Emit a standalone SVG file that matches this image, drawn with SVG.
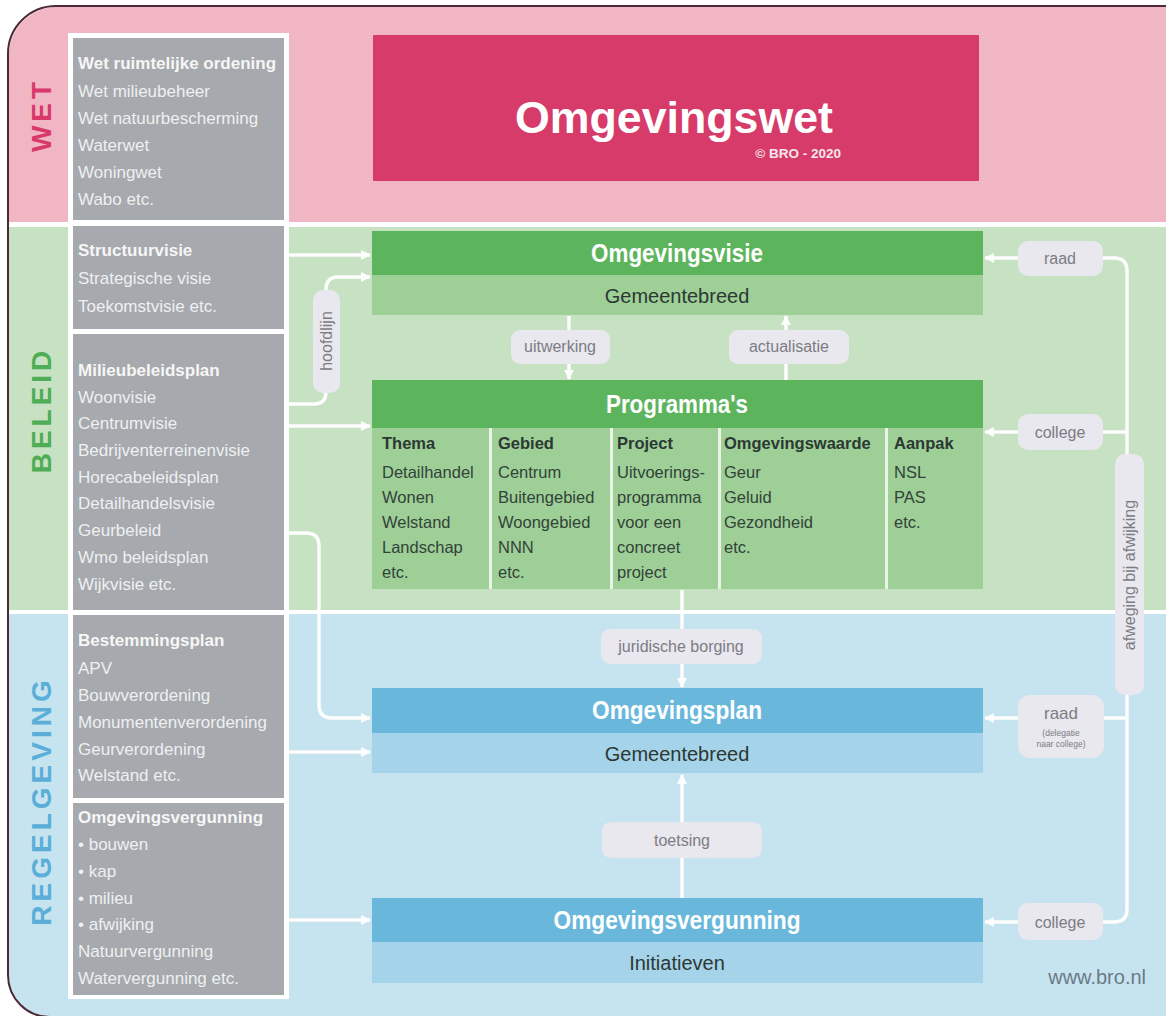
<svg xmlns="http://www.w3.org/2000/svg" width="1171" height="1016" viewBox="0 0 1171 1016">
<defs>
<style>
.t{font-family:"Liberation Sans",Arial,sans-serif}
.gh{font-family:"Liberation Sans",Arial,sans-serif;font-weight:bold;font-size:17px;fill:#f6f6f6}
.gl{font-family:"Liberation Sans",Arial,sans-serif;font-size:17px;fill:#eef0f2}
.sec{font-family:"Liberation Sans",Arial,sans-serif;font-weight:bold;font-size:28px;letter-spacing:4px;text-anchor:middle}
.hd{font-family:"Liberation Sans",Arial,sans-serif;font-weight:bold;font-size:26px;fill:#ffffff;text-anchor:middle}
.sub{font-family:"Liberation Sans",Arial,sans-serif;font-size:20px;fill:#2c3833;text-anchor:middle}
.th{font-family:"Liberation Sans",Arial,sans-serif;font-weight:bold;font-size:16.5px;fill:#2c3833}
.td{font-family:"Liberation Sans",Arial,sans-serif;font-size:16.5px;fill:#33423a}
.pill{fill:#e9e8ee}
.pt{font-family:"Liberation Sans",Arial,sans-serif;font-size:16px;fill:#7c7c84;text-anchor:middle}
.ps{font-family:"Liberation Sans",Arial,sans-serif;font-size:8.5px;fill:#7c7c84;text-anchor:middle}
.ln{fill:none;stroke:#fdfdfd;stroke-width:3.5}
.la{fill:none;stroke:#fdfdfd;stroke-width:3.5;marker-end:url(#ah)}
</style>
<marker id="ah" markerUnits="userSpaceOnUse" markerWidth="10" markerHeight="10" refX="9" refY="5" orient="auto">
<path d="M0,0 L10,5 L0,10 z" fill="#fdfdfd"/>
</marker>
</defs>

<g id="background">
<rect x="0" y="0" width="1171" height="1016" fill="#ffffff"/>
<path d="M1166 7 V222 H9 V55 A48 48 0 0 1 57 7 Z" fill="#f1b6c4"/>
<rect x="9" y="227" width="1157" height="383" fill="#c7e2c3"/>
<path d="M9 614 H1166 V1016 H50 A41 41 0 0 1 9 975 Z" fill="#c6e4f0"/>
<path d="M1166 6 H56 A48 48 0 0 0 8 54 V975 A42 42 0 0 0 50 1017" fill="none" stroke="#4b2a35" stroke-width="2"/>
</g>

<g id="section-labels">
<text class="sec" fill="#d8396a" transform="translate(51,115) rotate(-90)">WET</text>
<text class="sec" fill="#4fae55" transform="translate(51,410) rotate(-90)">BELEID</text>
<text class="sec" fill="#5aaed8" transform="translate(51,801) rotate(-90)">REGELGEVING</text>
</g>

<g id="left-column">
<rect x="68" y="33" width="221" height="966" fill="#ffffff"/>
<g id="box-wet">
<rect x="73" y="38" width="211" height="182" fill="#a6a9ad"/>
<text class="gh" x="78" y="69">Wet ruimtelijke ordening</text>
<text class="gl" x="78" y="97">Wet milieubeheer</text>
<text class="gl" x="78" y="124">Wet natuurbescherming</text>
<text class="gl" x="78" y="151">Waterwet</text>
<text class="gl" x="78" y="178">Woningwet</text>
<text class="gl" x="78" y="205">Wabo etc.</text>
</g>
<g id="box-structuurvisie">
<rect x="73" y="226" width="211" height="103" fill="#a6a9ad"/>
<text class="gh" x="78" y="256">Structuurvisie</text>
<text class="gl" x="78" y="284">Strategische visie</text>
<text class="gl" x="78" y="312">Toekomstvisie etc.</text>
</g>
<g id="box-milieubeleidsplan">
<rect x="73" y="334" width="211" height="276" fill="#a6a9ad"/>
<text class="gh" x="78" y="376">Milieubeleidsplan</text>
<text class="gl" x="78" y="403">Woonvisie</text>
<text class="gl" x="78" y="429">Centrumvisie</text>
<text class="gl" x="78" y="456">Bedrijventerreinenvisie</text>
<text class="gl" x="78" y="483">Horecabeleidsplan</text>
<text class="gl" x="78" y="509">Detailhandelsvisie</text>
<text class="gl" x="78" y="536">Geurbeleid</text>
<text class="gl" x="78" y="563">Wmo beleidsplan</text>
<text class="gl" x="78" y="590">Wijkvisie etc.</text>
</g>
<g id="box-bestemmingsplan">
<rect x="73" y="615" width="211" height="183" fill="#a6a9ad"/>
<text class="gh" x="78" y="646">Bestemmingsplan</text>
<text class="gl" x="78" y="674">APV</text>
<text class="gl" x="78" y="701">Bouwverordening</text>
<text class="gl" x="78" y="728">Monumentenverordening</text>
<text class="gl" x="78" y="755">Geurverordening</text>
<text class="gl" x="78" y="781">Welstand etc.</text>
</g>
<g id="box-omgevingsvergunning-left">
<rect x="73" y="803" width="211" height="192" fill="#a6a9ad"/>
<text class="gh" x="78" y="823">Omgevingsvergunning</text>
<text class="gl" x="78" y="850">• bouwen</text>
<text class="gl" x="78" y="877">• kap</text>
<text class="gl" x="78" y="904">• milieu</text>
<text class="gl" x="78" y="930">• afwijking</text>
<text class="gl" x="78" y="957">Natuurvergunning</text>
<text class="gl" x="78" y="984">Watervergunning etc.</text>
</g>
</g>

<g id="connectors">
<path class="la" d="M289 255 H370"/>
<path class="la" d="M289 404 H314 Q326 404 326 392 V290 Q326 277 338 277 H370"/>
<path class="la" d="M289 426 H370"/>
<path class="la" d="M289 533 H306 Q319 533 319 546 V705 Q319 718 332 718 H370"/>
<path class="la" d="M289 752 H370"/>
<path class="la" d="M289 920 H370"/>
<path class="la" d="M569 316 V379"/>
<path class="la" d="M786 380 V316"/>
<path class="la" d="M682 590 V687"/>
<path class="la" d="M682 898 V775"/>
<path class="ln" d="M1100 258 H1114 Q1127 258 1127 271 V909 Q1127 922 1114 922 H1100"/>
<path class="ln" d="M1100 432 H1127"/>
<path class="ln" d="M1100 718 H1127"/>
<path class="la" d="M1020 258 H985"/>
<path class="la" d="M1020 432 H985"/>
<path class="la" d="M1020 718 H985"/>
<path class="la" d="M1020 922 H985"/>
</g>

<g id="omgevingswet">
<rect x="373" y="35" width="606" height="146" fill="#d63b69"/>
<text class="t" x="674" y="133" font-size="44" font-weight="bold" fill="#ffffff" text-anchor="middle" textLength="318" lengthAdjust="spacingAndGlyphs">Omgevingswet</text>
<text class="t" x="841" y="158" font-size="13.5" font-weight="bold" fill="#f6e6ec" text-anchor="end">© BRO - 2020</text>
</g>

<g id="omgevingsvisie">
<rect x="372" y="231" width="611" height="44" fill="#5cb45d"/>
<rect x="372" y="275" width="611" height="40" fill="#9dcf96"/>
<text class="hd" x="677" y="262" textLength="172" lengthAdjust="spacingAndGlyphs">Omgevingsvisie</text>
<text class="sub" x="677" y="303">Gemeentebreed</text>
</g>

<g id="programmas">
<rect x="372" y="380" width="611" height="48" fill="#5cb45d"/>
<rect x="372" y="428" width="611" height="161" fill="#9dcf96"/>
<path d="M490.5 428 V589 M611.5 428 V589 M719.5 428 V589 M886.5 428 V589" stroke="#e9f3e6" stroke-width="3"/>
<text class="hd" x="677" y="413" textLength="142" lengthAdjust="spacingAndGlyphs">Programma's</text>
<text class="th" x="382" y="449">Thema</text>
<text class="td" x="382" y="478">Detailhandel</text>
<text class="td" x="382" y="503">Wonen</text>
<text class="td" x="382" y="528">Welstand</text>
<text class="td" x="382" y="553">Landschap</text>
<text class="td" x="382" y="578">etc.</text>
<text class="th" x="498" y="449">Gebied</text>
<text class="td" x="498" y="478">Centrum</text>
<text class="td" x="498" y="503">Buitengebied</text>
<text class="td" x="498" y="528">Woongebied</text>
<text class="td" x="498" y="553">NNN</text>
<text class="td" x="498" y="578">etc.</text>
<text class="th" x="617" y="449">Project</text>
<text class="td" x="617" y="478">Uitvoerings-</text>
<text class="td" x="617" y="503">programma</text>
<text class="td" x="617" y="528">voor een</text>
<text class="td" x="617" y="553">concreet</text>
<text class="td" x="617" y="578">project</text>
<text class="th" x="724" y="449">Omgevingswaarde</text>
<text class="td" x="724" y="478">Geur</text>
<text class="td" x="724" y="503">Geluid</text>
<text class="td" x="724" y="528">Gezondheid</text>
<text class="td" x="724" y="553">etc.</text>
<text class="th" x="894" y="449">Aanpak</text>
<text class="td" x="894" y="478">NSL</text>
<text class="td" x="894" y="503">PAS</text>
<text class="td" x="894" y="528">etc.</text>
</g>

<g id="omgevingsplan">
<rect x="372" y="688" width="611" height="45" fill="#69b8dc"/>
<rect x="372" y="733" width="611" height="40" fill="#a5d3e9"/>
<text class="hd" x="677" y="719" textLength="170" lengthAdjust="spacingAndGlyphs">Omgevingsplan</text>
<text class="sub" x="677" y="761">Gemeentebreed</text>
</g>

<g id="omgevingsvergunning">
<rect x="372" y="898" width="611" height="44" fill="#69b8dc"/>
<rect x="372" y="942" width="611" height="41" fill="#a5d3e9"/>
<text class="hd" x="677" y="929" textLength="247" lengthAdjust="spacingAndGlyphs">Omgevingsvergunning</text>
<text class="sub" x="677" y="970">Initiatieven</text>
</g>

<g id="label-uitwerking">
<rect class="pill" x="511" y="330" width="99" height="34" rx="9"/>
<text class="pt" x="560" y="352">uitwerking</text>
</g>
<g id="label-actualisatie">
<rect class="pill" x="729" y="330" width="120" height="34" rx="9"/>
<text class="pt" x="789" y="352">actualisatie</text>
</g>
<g id="label-hoofdlijn">
<rect class="pill" x="313" y="290" width="27" height="103" rx="10"/>
<text class="pt" transform="translate(332,341) rotate(-90)">hoofdlijn</text>
</g>
<g id="label-juridische-borging">
<rect class="pill" x="601" y="629" width="161" height="35" rx="9"/>
<text class="pt" x="681" y="652">juridische borging</text>
</g>
<g id="label-toetsing">
<rect class="pill" x="602" y="822" width="160" height="36" rx="9"/>
<text class="pt" x="682" y="846">toetsing</text>
</g>
<g id="label-raad-1">
<rect class="pill" x="1018" y="241" width="85" height="35" rx="10"/>
<text class="pt" x="1060" y="264">raad</text>
</g>
<g id="label-college-1">
<rect class="pill" x="1018" y="414" width="85" height="36" rx="10"/>
<text class="pt" x="1060" y="438">college</text>
</g>
<g id="label-afweging">
<rect class="pill" x="1115" y="454" width="29" height="241" rx="10"/>
<text class="pt" transform="translate(1135,575) rotate(-90)">afweging bij afwijking</text>
</g>
<g id="label-raad-2">
<rect class="pill" x="1018" y="695" width="86" height="63" rx="12"/>
<text class="pt" x="1061" y="719" style="font-size:17px">raad</text>
<text class="ps" x="1061" y="736">(delegatie</text>
<text class="ps" x="1061" y="747">naar college)</text>
</g>
<g id="label-college-2">
<rect class="pill" x="1018" y="903" width="85" height="37" rx="10"/>
<text class="pt" x="1060" y="928">college</text>
</g>

<text id="website" class="t" x="1146" y="984" font-size="20" fill="#6b7a86" text-anchor="end">www.bro.nl</text>
</svg>
